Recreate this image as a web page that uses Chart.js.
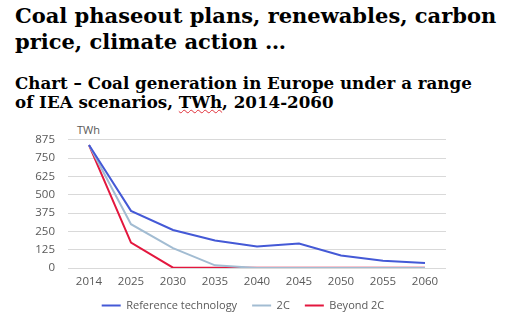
<!DOCTYPE html>
<html>
<head>
<meta charset="utf-8">
<script src="https://cdn.jsdelivr.net/npm/chart.js@4"></script>
<style>
	html, body { margin: 0; padding: 0; background: #fff; }
	#page { position: relative; width: 509px; height: 321px; overflow: hidden; }
	.heading { position: absolute; left: 15px; font-family: "DejaVu Serif", serif; font-weight: bold; color: #000; white-space: nowrap; }
	#title { top: 3px; font-size: 21px; line-height: 26px; }
	#subtitle { top: 74px; font-size: 16.7px; line-height: 19px; }
	.squiggle { text-decoration: underline wavy #e0303a; text-decoration-thickness: 1px; }
	#unit { position: absolute; left: 77px; top: 122px; font: 11px "Open Sans", sans-serif; color: #595959; }
	#wrap { position: absolute; left: 0; top: 120px; width: 509px; height: 201px; }
</style>
</head>
<body>
<div id="page">
	<div id="title" class="heading">Coal phaseout plans, renewables, carbon<br>price, climate action …</div>
	<div id="subtitle" class="heading">Chart – Coal generation in Europe under a range<br>of IEA scenarios, <span class="squiggle">TWh</span>, 2014-2060</div>
	<div id="unit">TWh</div>
	<div id="wrap"><canvas id="coalChart"></canvas></div>
</div>
<script>
	const years = [ '2014', '2025', '2030', '2035', '2040', '2045', '2050', '2055', '2060' ];
	const referenceTech = [ 840, 390, 260, 188, 147, 167, 86, 50, 34 ];
	const twoDegrees = [ 840, 299, 136, 18, 0, 0, 0, 0, 0 ];
	const beyondTwo = [ 840, 174, 2, 2, 2, 2, 2, 2, 2 ];
	const yTicks = [ 0, 125, 250, 375, 500, 625, 750, 875 ];

	const tickFont = { family: 'Open Sans', size: 11.5 };

	function series( label, data, colour ) {
		return {
			label: label,
			data: data,
			borderColor: colour,
			backgroundColor: colour,
			borderWidth: 2,
			pointRadius: 0,
			tension: 0,
			fill: false
		};
	}

	// Nudge the legend to the right so it sits under the middle of the page.
	const legendShift = {
		id: 'legendShift',
		afterLayout: function ( chart ) {
			chart.legend.left += 20;
			chart.legend.right += 20;
		}
	};

	new Chart( 'coalChart', {
		type: 'line',
		data: {
			labels: years,
			datasets: [
				series( 'Reference technology', referenceTech, '#4459d6' ),
				series( '2C', twoDegrees, '#a2bcd2' ),
				series( 'Beyond 2C', beyondTwo, '#e3173e' )
			]
		},
		plugins: [ legendShift ],
		options: {
			responsive: true,
			maintainAspectRatio: false,
			animation: false,
			layout: { padding: { top: 19, right: 63, left: 0, bottom: 0 } },
			plugins: {
				tooltip: { enabled: false },
				legend: {
					position: 'bottom',
					labels: {
						usePointStyle: true,
						pointStyle: 'line',
						pointStyleWidth: 19,
						boxHeight: 11,
						padding: 15,
						color: '#595959',
						font: { family: 'Open Sans', size: 11 }
					}
				}
			},
			scales: {
				x: {
					offset: true,
					grid: { display: false },
					border: { display: false },
					ticks: { color: '#595959', font: tickFont, padding: -1, maxRotation: 0 },
					afterFit: function ( scale ) { scale.height = 17; }
				},
				y: {
					min: 0,
					max: 875,
					afterBuildTicks: function ( scale ) {
						scale.ticks = yTicks.map( v => ( { value: v } ) );
					},
					grid: { color: '#d9d9d9', lineWidth: 1, drawTicks: false },
					border: { display: false },
					ticks: { color: '#595959', font: tickFont, padding: 13 },
					afterFit: function ( scale ) { scale.width = 68; }
				}
			}
		}
	} );
</script>
</body>
</html>
